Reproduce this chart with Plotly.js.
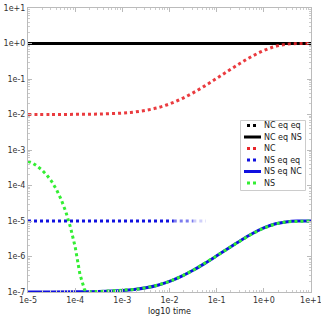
<!DOCTYPE html>
<html>
<head>
<meta charset="utf-8">
<script src="https://cdn.plot.ly/plotly-3.0.1.min.js"></script>
<style>html,body{margin:0;padding:0;background:#fff;}#chart{width:321px;height:317px;}</style>
</head>
<body>
<div id="chart"></div>
<script>
// time points (seconds)
const timeMain = [1e-5, 3.162e-5, 1e-4, 3.162e-4, 1e-3, 1.778e-3, 3.162e-3, 5.623e-3, 1e-2, 1.778e-2, 3.162e-2, 5.623e-2, 1e-1, 1.778e-1, 3.162e-1, 5.623e-1, 1, 1.778, 3.162, 5.623, 10];
const ncEqEq   = [1,1,1,1,1,1,1,1,1,1,1,1,1,1,1,1,1,1,1,1,1];
const ncEqNS   = [1,1,1,1,1,1,1,1,1,1,1,1,1,1,1,1,1,1,1,1,1];
const ncVals   = [0.01001, 0.01003, 0.0101, 0.01031, 0.01099, 0.01176, 0.01313, 0.01555, 0.01985, 0.02744, 0.04082, 0.06413, 0.1042, 0.1713, 0.2784, 0.4358, 0.6358, 0.8327, 0.9581, 0.9964, 1.0];
const nsEqNC   = [1.001e-7, 1.003e-7, 1.01e-7, 1.031e-7, 1.099e-7, 1.176e-7, 1.313e-7, 1.555e-7, 1.985e-7, 2.744e-7, 4.082e-7, 6.413e-7, 1.042e-6, 1.713e-6, 2.784e-6, 4.358e-6, 6.358e-6, 8.327e-6, 9.581e-6, 9.964e-6, 1.0e-5];

// NS eq eq: constant, fading out
const nsEqEqTime = [1e-5, 1.23e-2];
const nsEqEqVals = [1e-5, 1e-5];
const nsFadeTime = [[1.23e-2, 3.2e-2], [3.2e-2, 5.9e-2]];
const nsFadeVals = [[1e-5, 1e-5], [1e-5, 1e-5]];
const nsFadeOpacity = [0.55, 0.2];

// NS
const nsTime = [1e-5, 1.259e-5, 1.585e-5, 1.995e-5, 2.512e-5, 3.162e-5, 3.981e-5, 5.012e-5, 6.310e-5, 7.943e-5, 1e-4, 1.259e-4, 1.585e-4, 1.995e-4, 3.162e-4, 1e-3, 1.778e-3, 3.162e-3, 5.623e-3, 1e-2, 1.778e-2, 3.162e-2, 5.623e-2, 1e-1, 1.778e-1, 3.162e-1, 5.623e-1, 1, 1.778, 3.162, 5.623, 10];
const nsVals = [4.8e-4, 4.27e-4, 3.48e-4, 2.70e-4, 1.96e-4, 1.31e-4, 7.85e-5, 4.14e-5, 1.85e-5, 6.68e-6, 1.86e-6, 3.2e-7, 1.15e-7, 1.02e-7, 1.031e-7, 1.099e-7, 1.176e-7, 1.313e-7, 1.555e-7, 1.985e-7, 2.744e-7, 4.082e-7, 6.413e-7, 1.042e-6, 1.713e-6, 2.784e-6, 4.358e-6, 6.358e-6, 8.327e-6, 9.581e-6, 9.964e-6, 1.0e-5];

const xTickVals = [1e-5, 1e-4, 1e-3, 1e-2, 1e-1, 1, 10];
const xTickText = ['1e-5','1e-4','1e-3','1e-2','1e-1','1e+0','1e+1'];
const yTickVals = [1e-7, 1e-6, 1e-5, 1e-4, 1e-3, 1e-2, 1e-1, 1, 10];
const yTickText = ['1e-7','1e-6','1e-5','1e-4','1e-3','1e-2','1e-1','1e+0','1e+1'];

const legendNames = ['NC eq eq','NC eq NS','NC','NS eq eq','NS eq NC','NS'];
const legendColors = ['#000000','#000000','#e8262a','#1010e0','#1010e0','#33ee33'];
const legendDash = ['dot','solid','dot','dot','solid','dot'];

function minorTicks(lo, hi){
  const out=[];
  for(let e=lo;e<hi;e++){for(let m=2;m<=9;m++){out.push(m*Math.pow(10,e));}}
  return out;
}

const traces = [
  {x: timeMain, y: ncEqEq, mode:'lines', line:{color:'#000', width:3, dash:'dot'}},
  {x: timeMain, y: ncEqNS, mode:'lines', line:{color:'#000', width:3, dash:'solid'}},
  {x: timeMain, y: ncVals, mode:'lines', line:{color:'#e8262a', width:3, dash:'dot', shape:'spline'}, opacity:0.9},
  {x: nsEqEqTime, y: nsEqEqVals, mode:'lines', line:{color:'#1010e0', width:3, dash:'dot'}},
];
nsFadeTime.forEach((t,i)=>{
  traces.push({x:t, y:nsFadeVals[i], mode:'lines', line:{color:'#1010e0', width:3, dash:'dot'}, opacity:nsFadeOpacity[i]});
});
traces.push({x: timeMain, y: nsEqNC, mode:'lines', line:{color:'#1010e0', width:3, shape:'spline'}});
traces.push({x: nsTime, y: nsVals, mode:'lines', line:{color:'#33ee33', width:3, dash:'dot'}});
traces.forEach(t=>{t.showlegend=false; t.hoverinfo='skip';});

// custom legend geometry in pixels
const L = 28, R = 311, T = 8, B = 292;
const px = v => (v - L) / (R - L);
const py = v => (B - v) / (B - T);
const shapes = [{type:'rect', xref:'paper', yref:'paper', x0:px(240.5), x1:px(305.5), y0:py(120.5), y1:py(190.5), line:{color:'#cccccc', width:1}, fillcolor:'#ffffff', layer:'above'}];
const annotations = [];
const rowY = [125.5, 137, 148.5, 160, 171.5, 183];
legendNames.forEach((n,i)=>{
  const dotted = legendDash[i]==='dot';
  shapes.push({type:'line', xref:'paper', yref:'paper', x0:px(dotted?247:244), x1:px(dotted?257:261), y0:py(rowY[i]), y1:py(rowY[i]), line:{color:legendColors[i], width:3, dash:legendDash[i]}, layer:'above'});
  annotations.push({xref:'paper', yref:'paper', x:px(262), y:py(rowY[i]), xanchor:'left', yanchor:'middle', text:n, showarrow:false, font:{family:'DejaVu Sans', size:8, color:'#222'}});
});

const axisCommon = {
  type:'log', showgrid:false, zeroline:false, showline:true, linecolor:'#bbbbbb', linewidth:1, mirror:'allticks',
  ticks:'inside', ticklen:4, tickcolor:'#bbbbbb', tickfont:{family:'DejaVu Sans', size:8, color:'#333'}, tickmode:'array',
  ticklabeloverflow:'allow'
};

const layout = {
  width:321, height:317,
  margin:{l:L, r:321-R, t:T, b:317-B},
  paper_bgcolor:'#fff', plot_bgcolor:'#fff',
  showlegend:false,
  xaxis: Object.assign({}, axisCommon, {range:[-5.0001,1.0001], tickvals:xTickVals, ticktext:xTickText,
    minor:{ticks:'inside', ticklen:2, tickcolor:'#cccccc', tickmode:'array', tickvals:minorTicks(-5,1)},
    title:{text:'log10 time', font:{family:'DejaVu Sans', size:8, color:'#222'}, standoff:4}}),
  yaxis: Object.assign({}, axisCommon, {range:[-7.0001,1.0001], tickvals:yTickVals, ticktext:yTickText,
    minor:{ticks:'inside', ticklen:2, tickcolor:'#cccccc', tickmode:'array', tickvals:minorTicks(-7,1)}}),
  shapes: shapes, annotations: annotations
};

Plotly.newPlot('chart', traces, layout, {staticPlot:true, displayModeBar:false});
</script>
</body>
</html>
